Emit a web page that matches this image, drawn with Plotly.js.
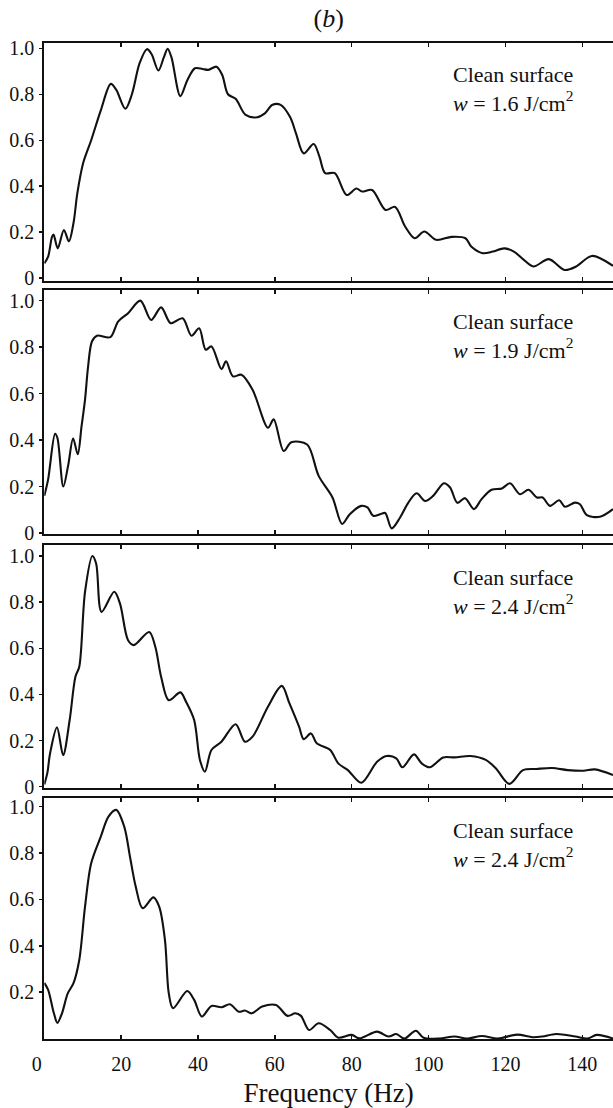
<!DOCTYPE html>
<html>
<head>
<meta charset="utf-8">
<script src="https://cdn.plot.ly/plotly-3.0.1.min.js"></script>
<style>html,body{margin:0;padding:0;background:#fff;}</style>
</head>
<body>
<div id="chart" style="width:613px;height:1108px;"></div>
<script>
// Normalised spectra versus frequency (Hz), one pair of arrays per panel
const freq1 = [0,1,2,2.4,3.5,5.1,6.4,7.6,8.6,10.1,12.2,14.7,17.3,18.7,21.1,22.8,24.8,26.7,27.9,29.7,31.1,32.1,33.1,35.4,37.2,39.2,41.2,42.7,44.8,46.3,47.8,49.8,52.4,55.4,57.4,59.4,61.5,64.0,65.5,67.5,70.1,71.6,73.1,75.6,78.7,81.2,82.7,85.3,88.8,91.3,93.9,96.4,98.9,102.0,106.0,109.6,111.1,114.1,116.7,119.7,122.2,124.8,127.3,131.3,135.4,138.4,142.5,148];
const amp1  = [0.065,0.094,0.18,0.19,0.13,0.21,0.16,0.24,0.37,0.50,0.60,0.73,0.845,0.82,0.737,0.80,0.935,0.996,0.975,0.903,0.96,0.998,0.96,0.792,0.86,0.913,0.91,0.906,0.92,0.884,0.80,0.78,0.71,0.70,0.717,0.754,0.754,0.70,0.63,0.543,0.584,0.529,0.457,0.457,0.362,0.39,0.377,0.384,0.297,0.31,0.225,0.174,0.203,0.167,0.18,0.174,0.138,0.109,0.116,0.13,0.116,0.08,0.051,0.083,0.036,0.051,0.097,0.054];

const freq2 = [0,1.0,2.8,3.4,4.95,6.2,7.5,8.7,9.7,10.6,11.4,12.4,13.7,17.2,19.2,21.8,25.0,27.8,30.4,32.9,36.0,38.3,40.3,42.0,43.5,46.1,47.3,49.1,51.3,54.2,58.2,59.7,62.3,64.3,68.4,71.4,75.0,77.5,79.5,82.5,84.1,85.6,87.4,88.7,90.4,92.6,94.7,96.9,99.1,101.2,104.0,105.6,107.5,109.5,111.8,113.8,116.4,119.1,121.2,123.8,126.0,128.2,129.7,131.6,134.0,135.5,138.1,139.4,141.2,144.6,148];
const amp2  = [0.16,0.231,0.427,0.41,0.2,0.29,0.407,0.339,0.46,0.574,0.717,0.824,0.849,0.843,0.91,0.946,1.0,0.917,0.971,0.903,0.924,0.849,0.881,0.789,0.803,0.706,0.739,0.674,0.681,0.617,0.453,0.489,0.353,0.391,0.381,0.246,0.153,0.039,0.081,0.117,0.11,0.074,0.081,0.086,0.02,0.067,0.13,0.171,0.138,0.16,0.214,0.196,0.13,0.15,0.103,0.146,0.186,0.192,0.214,0.167,0.186,0.153,0.153,0.117,0.141,0.113,0.131,0.124,0.077,0.07,0.103];

const freq3 = [0,0.8,1.5,3.3,4.9,6.6,8.1,9.1,10.6,12.5,13.5,14.9,18.2,19.7,21.8,23.3,27.3,28.9,30.4,32.4,35.4,36.9,39.0,40.5,41.8,43.5,46.1,49.8,52.2,54.2,58.2,61.8,63.8,66.3,67.5,69.4,70.9,74.4,76.5,79.0,82.5,86.6,89.1,91.6,93.2,96.2,98.2,100.3,103.8,106.8,110.9,114.9,117.5,121.0,124.6,128.1,132.2,136.2,140.3,143.3,148];
const amp3  = [0.01,0.06,0.144,0.257,0.137,0.289,0.477,0.52,0.845,1.0,0.967,0.758,0.845,0.794,0.635,0.614,0.671,0.606,0.477,0.375,0.409,0.368,0.289,0.116,0.065,0.159,0.195,0.271,0.195,0.217,0.347,0.437,0.361,0.26,0.206,0.231,0.188,0.159,0.101,0.072,0.017,0.108,0.133,0.123,0.084,0.14,0.101,0.084,0.127,0.127,0.133,0.116,0.08,0.012,0.072,0.077,0.081,0.072,0.069,0.075,0.05];

const freq4 = [0,1.0,2.5,3.4,4.6,6.1,7.6,9.1,10.6,12.2,14.7,16.7,18.7,20.8,22.3,23.8,25.6,28.4,29.9,31.4,32.4,33.5,37.2,39.0,41.0,43.5,46.1,48.3,50.6,52.2,54.0,56.7,60.3,63.3,65.3,66.8,68.9,71.4,74.4,76.5,80.0,82.0,86.6,89.6,91.6,93.7,96.7,98.7,102.8,106.8,109.9,113.9,118.0,123.0,127.1,129.6,133.2,138.2,141.3,143.8,148];
const amp4  = [0.24,0.21,0.109,0.068,0.109,0.195,0.239,0.339,0.569,0.756,0.871,0.957,0.986,0.914,0.784,0.655,0.562,0.609,0.569,0.425,0.195,0.131,0.205,0.167,0.095,0.141,0.135,0.148,0.116,0.121,0.109,0.138,0.145,0.098,0.109,0.098,0.037,0.066,0.037,0.004,0.016,0.001,0.03,0.009,0.02,0.0,0.034,0.004,0.0,0.009,0.0,0.011,0.0,0.017,0.006,0.009,0.02,0.009,0.0,0.016,0.0];

const fluence = ['1.6', '1.9', '2.4', '2.4'];
const surfaceLabel = 'Clean surface';

const xTickVals = [0, 20, 40, 60, 80, 100, 120, 140];
// the zero label is set slightly left of the corner with trailing no-break spaces
const xTickText = ['0\u00a0\u00a0\u00a0', '20', '40', '60', '80', '100', '120', '140'];
const yTickVals = [0, 0.2, 0.4, 0.6, 0.8, 1.0];
const yTickText = ['0', '0.2', '0.4', '0.6', '0.8', '1.0'];

const freqs = [freq1, freq2, freq3, freq4];
const amps = [amp1, amp2, amp3, amp4];

// figure geometry in pixels
const W = 613, H = 1108;
const plotLeft = 44.3;
const panelPx = [[42.5, 281], [289.5, 533.5], [545, 788.3], [798.3, 1039.3]];
const yRanges = [[-0.012, 1.025], [-0.002, 1.048], [-0.007, 1.048], [-0.003, 1.036]];
const xMax = 148;

const serif = 'Liberation Serif, Times New Roman, serif';
const ink = '#111';

const traces = [];
const layout = {
  width: W, height: H,
  margin: {l: 0, r: 0, t: 0, b: 0},
  paper_bgcolor: '#fff', plot_bgcolor: '#fff',
  showlegend: false,
  font: {family: serif, color: ink, size: 20},
  title: {
    text: '(<i>b</i>)',
    font: {family: serif, size: 26, color: ink},
    x: (plotLeft + W) / 2 / W, xanchor: 'center', xref: 'paper',
    y: 1 - 18 / H, yanchor: 'middle', yref: 'paper'
  },
  annotations: []
};

for (let i = 0; i < 4; i++) {
  const n = i + 1;
  const xa = n === 1 ? 'xaxis' : 'xaxis' + n;
  const ya = n === 1 ? 'yaxis' : 'yaxis' + n;
  const xr = n === 1 ? 'x' : 'x' + n;
  const yr = n === 1 ? 'y' : 'y' + n;
  const [top, bot] = panelPx[i];
  const last = i === 3;

  traces.push({
    x: freqs[i], y: amps[i],
    xaxis: xr, yaxis: yr,
    type: 'scatter', mode: 'lines',
    line: {color: ink, width: 2.1, shape: 'spline', smoothing: 0.9},
    hoverinfo: 'skip'
  });

  layout[xa] = {
    domain: [plotLeft / W, 1],
    anchor: yr,
    range: [0, xMax],
    tickmode: 'array', tickvals: xTickVals, ticktext: xTickText,
    ticks: 'inside', ticklen: 4, tickwidth: 1.5, tickcolor: ink,
    showline: true, linecolor: ink, linewidth: 2, mirror: 'ticks',
    showgrid: false, zeroline: false,
    showticklabels: last,
    tickfont: {family: serif, size: 20, color: ink},
    ticklabelstandoff: 6
  };
  if (last) {
    layout[xa].title = {text: 'Frequency (Hz)', font: {family: serif, size: 27, color: ink}, standoff: 10};
  }
  if (n !== 1) layout[xa].matches = 'x';

  const vals = last ? yTickVals.slice(1) : yTickVals;
  const txt = last ? yTickText.slice(1) : yTickText;
  layout[ya] = {
    domain: [1 - bot / H, 1 - top / H],
    anchor: xr,
    range: yRanges[i],
    tickmode: 'array', tickvals: vals, ticktext: txt,
    ticks: 'outside', ticklen: 3, tickwidth: 1.5, tickcolor: ink,
    showline: true, linecolor: ink, linewidth: 2, mirror: false,
    showgrid: false, zeroline: false,
    tickfont: {family: serif, size: 20, color: ink},
    ticklabelstandoff: 1
  };

  layout.annotations.push({
    xref: xr, yref: yr + ' domain',
    x: 122, y: 1 - 18 / (bot - top),
    xanchor: 'center', yanchor: 'top', align: 'center',
    showarrow: false,
    text: surfaceLabel + '<br><i>w</i> = ' + fluence[i] + ' J/cm<sup>2</sup>',
    font: {family: serif, size: 22, color: ink}
  });
}

Plotly.newPlot('chart', traces, layout, {staticPlot: true, displayModeBar: false});
</script>
</body>
</html>
